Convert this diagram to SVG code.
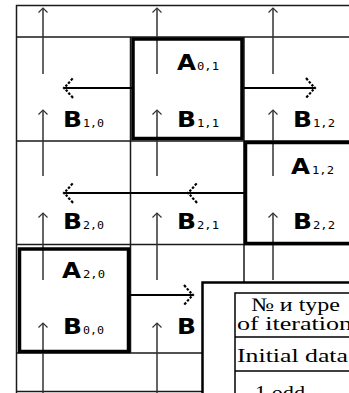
<svg xmlns="http://www.w3.org/2000/svg" width="349" height="393" viewBox="0 0 349 393">
<style>
.grid{stroke:#1a1a1a;stroke-width:1.5;fill:none}
.thick{stroke:#000;stroke-width:3.5;fill:none}
.va{stroke:#333;stroke-width:1.5;fill:none;marker-end:url(#vh)}
.ha{stroke:#000;stroke-width:2;fill:none;marker-end:url(#hh)}
.big{font-family:"DejaVu Sans",sans-serif;font-weight:bold;font-size:21px;fill:#000}
.sub{font-family:"DejaVu Sans Mono",monospace;font-size:11px;fill:#000}
.tt{font-family:"Liberation Serif",serif;font-size:19px;fill:#000}
</style>
<defs>
<marker id="vh" markerUnits="userSpaceOnUse" markerWidth="14" markerHeight="14" viewBox="-7 -7 14 14" refX="0" refY="0" orient="auto" overflow="visible">
<path d="M-4.5,-4.5 L0,0 L-4.5,4.5" fill="none" stroke="#333" stroke-width="1.2"/>
</marker>
<marker id="hh" markerUnits="userSpaceOnUse" markerWidth="24" markerHeight="24" viewBox="-12 -12 24 24" refX="0" refY="0" orient="auto" overflow="visible">
<path d="M-9,-10 Q-4,-4 0,0 Q-4,4 -9,10" fill="none" stroke="#000" stroke-width="2.2" stroke-dasharray="2.5 1.5"/>
</marker>
</defs>
<rect width="349" height="393" fill="#fff"/>
<g id="grid">
<path class="grid" d="M16,5.5 H349 M16,37 H349 M16,141 H349 M16,244.5 H349 M16,353 H203 M16,391.5 H203 M130.5,37 V353 M244,37 V353"/>
<path class="grid" stroke-width="2" d="M16.5,5 V393"/>
</g>
<g id="connectors">
<path class="va" d="M43,74 V8"/>
<path class="va" d="M43,176 V110"/>
<path class="va" d="M43,280 V213"/>
<path class="va" d="M43,393 V323"/>
<path class="va" d="M157,74 V8"/>
<path class="va" d="M157,176 V110"/>
<path class="va" d="M157,280 V213"/>
<path class="va" d="M157,393 V323"/>
<path class="va" d="M273,74 V8"/>
<path class="va" d="M273,176 V110"/>
<path class="va" d="M273,280 V213"/>
<path class="ha" d="M133,88 H64"/>
<path class="ha" d="M244,88 H315"/>
<path class="ha" d="M245,193 H188"/>
<path class="ha" d="M188,193 H64"/>
<path class="ha" d="M130,295 H193"/>
</g>
<g id="A01">
<rect class="thick" x="133" y="39" width="109" height="99.5"/>
<text class="big" x="177" y="70" textLength="19" lengthAdjust="spacingAndGlyphs">A</text>
<text class="sub" x="197" y="70" textLength="22" lengthAdjust="spacingAndGlyphs">0,1</text>
</g>
<g id="A12">
<rect class="thick" x="245.5" y="142.5" width="120" height="101"/>
<text class="big" x="291" y="174" textLength="19" lengthAdjust="spacingAndGlyphs">A</text>
<text class="sub" x="312" y="174" textLength="22" lengthAdjust="spacingAndGlyphs">1,2</text>
</g>
<g id="A20">
<rect class="thick" x="19.5" y="249" width="109" height="102.5"/>
<text class="big" x="62" y="278" textLength="19" lengthAdjust="spacingAndGlyphs">A</text>
<text class="sub" x="83" y="278" textLength="22" lengthAdjust="spacingAndGlyphs">2,0</text>
</g>
<g id="B10"><text class="big" x="63" y="127" textLength="19" lengthAdjust="spacingAndGlyphs">B</text><text class="sub" x="83" y="127" textLength="21" lengthAdjust="spacingAndGlyphs">1,0</text></g>
<g id="B11"><text class="big" x="177" y="127" textLength="19" lengthAdjust="spacingAndGlyphs">B</text><text class="sub" x="197" y="127" textLength="22" lengthAdjust="spacingAndGlyphs">1,1</text></g>
<g id="B12"><text class="big" x="293" y="127" textLength="19" lengthAdjust="spacingAndGlyphs">B</text><text class="sub" x="313" y="127" textLength="22" lengthAdjust="spacingAndGlyphs">1,2</text></g>
<g id="B20"><text class="big" x="63" y="229" textLength="19" lengthAdjust="spacingAndGlyphs">B</text><text class="sub" x="83" y="229" textLength="21" lengthAdjust="spacingAndGlyphs">2,0</text></g>
<g id="B21"><text class="big" x="177" y="229" textLength="19" lengthAdjust="spacingAndGlyphs">B</text><text class="sub" x="197" y="229" textLength="22" lengthAdjust="spacingAndGlyphs">2,1</text></g>
<g id="B22"><text class="big" x="293" y="229" textLength="19" lengthAdjust="spacingAndGlyphs">B</text><text class="sub" x="313" y="229" textLength="22" lengthAdjust="spacingAndGlyphs">2,2</text></g>
<g id="B00"><text class="big" x="63" y="334" textLength="19" lengthAdjust="spacingAndGlyphs">B</text><text class="sub" x="83" y="334" textLength="21" lengthAdjust="spacingAndGlyphs">0,0</text></g>
<g id="B01"><text class="big" x="177" y="334" textLength="19" lengthAdjust="spacingAndGlyphs">B</text></g>
<g id="overlay">
<rect x="202.5" y="282.5" width="160" height="130" fill="#fff" stroke="#000" stroke-width="2.5"/>
<path d="M235,400 V293 H360 M235,337 H360 M235,371 H360" fill="none" stroke="#000" stroke-width="1.5"/>
<text class="tt" x="251" y="311" textLength="89" lengthAdjust="spacingAndGlyphs">№ и type</text>
<text class="tt" x="237" y="330" textLength="115" lengthAdjust="spacingAndGlyphs">of iteration</text>
<text class="tt" x="237" y="362" textLength="111" lengthAdjust="spacingAndGlyphs">Initial data</text>
<text class="tt" x="255" y="399" textLength="50" lengthAdjust="spacingAndGlyphs">1 odd</text>
</g>
</svg>
